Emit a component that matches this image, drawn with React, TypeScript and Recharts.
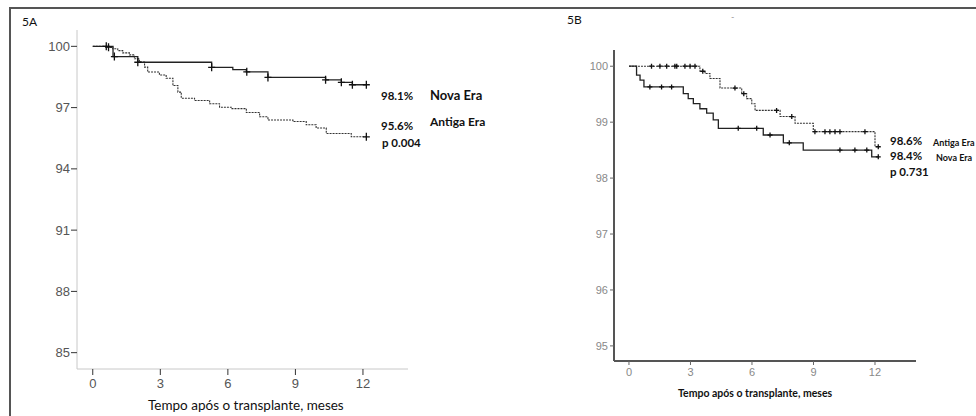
import React from 'react'
import { ComposedChart, Line, Scatter, XAxis, YAxis } from 'recharts'

// eixos
const monthTicks = [0, 3, 6, 9, 12]
const ticksA = [85, 88, 91, 94, 97, 100]
const ticksB = [95, 96, 97, 98, 99, 100]

// 5A — [mês, sobrevida %]
const novaEraA: [number, number][] = [
  [0, 100], [0.9, 99.5], [2.0, 99.22], [5.28, 98.97], [6.22, 98.86], [6.82, 98.75],
  [7.78, 98.48], [10.34, 98.36], [11.04, 98.24], [11.53, 98.12], [12.15, 98.12],
]
const antigaEraA: [number, number][] = [
  [0, 100], [0.67, 99.96], [0.89, 99.88], [1.11, 99.79], [1.33, 99.68], [1.63, 99.58],
  [1.85, 99.39], [2.07, 99.23], [2.3, 98.98], [2.44, 98.74], [2.96, 98.6], [3.26, 98.44],
  [3.56, 98.08], [3.78, 97.76], [3.93, 97.46], [4.52, 97.35], [5.19, 97.19], [5.63, 97.02],
  [6.15, 96.95], [6.82, 96.76], [7.41, 96.55], [7.78, 96.39], [8.89, 96.32], [9.48, 96.16],
  [9.92, 96.0], [10.37, 95.73], [11.48, 95.57], [12.15, 95.57],
]
const novaCensA: [number, number][] = [
  [0.6, 100], [0.96, 99.5], [2.0, 99.22], [5.28, 98.97], [6.84, 98.75], [7.78, 98.48],
  [10.34, 98.36], [11.04, 98.24], [11.53, 98.12], [12.15, 98.12],
]
const antigaCensA: [number, number][] = [[0.7, 99.96], [12.15, 95.57]]

// 5B
const novaEraB: [number, number][] = [
  [0, 100], [0.37, 99.84], [0.54, 99.75], [0.73, 99.63], [2.65, 99.51], [2.89, 99.42],
  [3.14, 99.33], [3.46, 99.24], [3.79, 99.16], [4.11, 99.04], [4.36, 98.89], [6.55, 98.77],
  [7.53, 98.63], [8.5, 98.5], [11.84, 98.38], [12.16, 98.38],
]
const antigaEraB: [number, number][] = [
  [0, 100], [3.46, 99.91], [3.71, 99.87], [3.95, 99.78], [4.44, 99.61], [5.5, 99.51],
  [5.74, 99.42], [5.99, 99.33], [6.15, 99.21], [7.37, 99.1], [8.1, 98.98], [8.99, 98.83],
  [12.0, 98.56], [12.16, 98.56],
]
const novaCensB: [number, number][] = [
  [1.02, 99.63], [1.59, 99.63], [2.08, 99.63], [5.33, 98.89], [6.23, 98.89], [6.88, 98.77],
  [7.82, 98.63], [10.29, 98.5], [11.02, 98.5], [11.6, 98.5], [12.16, 98.38],
]
const antigaCensB: [number, number][] = [
  [1.1, 100], [1.51, 100], [1.84, 100], [2.24, 100], [2.33, 100], [2.73, 100], [2.98, 100],
  [3.22, 100], [3.6, 99.91], [5.17, 99.61], [5.6, 99.51], [7.2, 99.21], [7.94, 99.1],
  [9.07, 98.83], [9.56, 98.83], [9.8, 98.83], [10.05, 98.83], [10.29, 98.83], [11.51, 98.83],
  [12.16, 98.56],
]

const rows = (pts: [number, number][]) => pts.map(([t, s]) => ({ t, s }))

const cross = (w: number, h: number) => (p: any) => (
  <path
    d={`M${p.cx - w},${p.cy}H${p.cx + w}M${p.cx},${p.cy - h}V${p.cy + h}`}
    stroke="#111" strokeWidth={1.3} fill="none"
  />
)

const Txt = ({ x, y, size, bold, color = '#111', font = 'Lato', children }: any) => (
  <div style={{
    position: 'absolute', left: x, top: y - size / 2, fontSize: size, lineHeight: `${size}px`,
    fontWeight: bold ? 700 : 400, color, fontFamily: font, whiteSpace: 'nowrap',
  }}>{children}</div>
)

export default function App() {
  return (
    <div style={{ position: 'absolute', left: 0, top: 0, width: 976, height: 416, background: '#fff', overflow: 'hidden' }}>
      <div style={{
        position: 'absolute', left: 9, top: 7, width: 980, height: 420,
        borderTop: '2px solid #555', borderLeft: '2px solid #555',
      }} />

      {/* 5A */}
      <div style={{ position: 'absolute', left: 0, top: 0, width: 490, height: 416, overflow: 'hidden' }}>
        <ComposedChart width={490} height={416} margin={{ top: 30, right: 82, left: 27, bottom: 0 }}>
          <XAxis type="number" dataKey="t" domain={[-0.7, 14]} ticks={monthTicks} interval={0}
            allowDataOverflow height={47} axisLine={{ stroke: '#c8c8c8' }} tickLine={{ stroke: '#333' }}
            tick={{ fill: '#555', fontSize: 13, fontFamily: 'Liberation Sans' }} tickMargin={4} />
          <YAxis type="number" domain={[84.2, 100.8]} ticks={ticksA} interval={0} allowDataOverflow
            width={50} axisLine={{ stroke: '#c8c8c8' }} tickLine={{ stroke: '#333' }}
            tick={{ fill: '#555', fontSize: 13, fontFamily: 'Liberation Sans' }} tickMargin={1} tickSize={6} />
          <Line data={rows(antigaEraA)} dataKey="s" type="stepAfter" stroke="#333" strokeWidth={1.1}
            strokeDasharray="2 1" dot={false} isAnimationActive={false} />
          <Line data={rows(novaEraA)} dataKey="s" type="stepAfter" stroke="#222" strokeWidth={1.3}
            dot={false} isAnimationActive={false} />
          <Scatter data={rows(antigaCensA)} dataKey="s" shape={cross(3.5, 4)} isAnimationActive={false} />
          <Scatter data={rows(novaCensA)} dataKey="s" shape={cross(3.5, 4)} isAnimationActive={false} />
        </ComposedChart>
        <Txt x={22} y={22} size={12}>5A</Txt>
        <Txt x={381} y={96} size={11.5} bold>98.1%</Txt>
        <Txt x={430} y={95} size={13} bold>Nova Era</Txt>
        <Txt x={381} y={126} size={11.5} bold>95.6%</Txt>
        <Txt x={430} y={122} size={12} bold>Antiga Era</Txt>
        <Txt x={382} y={143} size={11.5} bold>p 0.004</Txt>
        <Txt x={148} y={406} size={13.5}>Tempo após o transplante, meses</Txt>
      </div>

      {/* 5B */}
      <div style={{ position: 'absolute', left: 490, top: 0, width: 486, height: 416 }}>
        <ComposedChart width={486} height={416} margin={{ top: 50, right: 60, left: 74, bottom: 0 }}>
          <XAxis type="number" dataKey="t" domain={[-0.73, 14]} ticks={monthTicks} interval={0}
            allowDataOverflow height={55} axisLine={{ stroke: '#555', strokeWidth: 2 }}
            tickLine={{ stroke: '#666' }} tickSize={4}
            tick={{ fill: '#888', fontSize: 11, fontFamily: 'Liberation Sans' }} tickMargin={3} />
          <YAxis type="number" domain={[94.73, 100.29]} ticks={ticksB} interval={0} allowDataOverflow
            width={50} axisLine={{ stroke: '#555', strokeWidth: 2 }} tickLine={{ stroke: '#666' }}
            tick={{ fill: '#888', fontSize: 11, fontFamily: 'Liberation Sans' }} tickSize={4} tickMargin={2} />
          <Line data={rows(antigaEraB)} dataKey="s" type="stepAfter" stroke="#333" strokeWidth={1.1}
            strokeDasharray="2 1" dot={false} isAnimationActive={false} />
          <Line data={rows(novaEraB)} dataKey="s" type="stepAfter" stroke="#222" strokeWidth={1.3}
            dot={false} isAnimationActive={false} />
          <Scatter data={rows(antigaCensB)} dataKey="s" shape={cross(2.5, 2.5)} isAnimationActive={false} />
          <Scatter data={rows(novaCensB)} dataKey="s" shape={cross(2.5, 2.5)} isAnimationActive={false} />
        </ComposedChart>
      </div>
      <Txt x={567} y={20} size={12}>5B</Txt>
      <Txt x={731} y={16} size={9} color="#999">-</Txt>
      <Txt x={890} y={141} size={11.5} bold>98.6%</Txt>
      <Txt x={933} y={142} size={9} bold>Antiga Era</Txt>
      <Txt x={890} y={156} size={11.5} bold>98.4%</Txt>
      <Txt x={936} y={157} size={9} bold>Nova Era</Txt>
      <Txt x={890} y={172} size={11.5} bold>p 0.731</Txt>
      <Txt x={678} y={393} size={10.5} bold>Tempo após o transplante, meses</Txt>
    </div>
  )
}
